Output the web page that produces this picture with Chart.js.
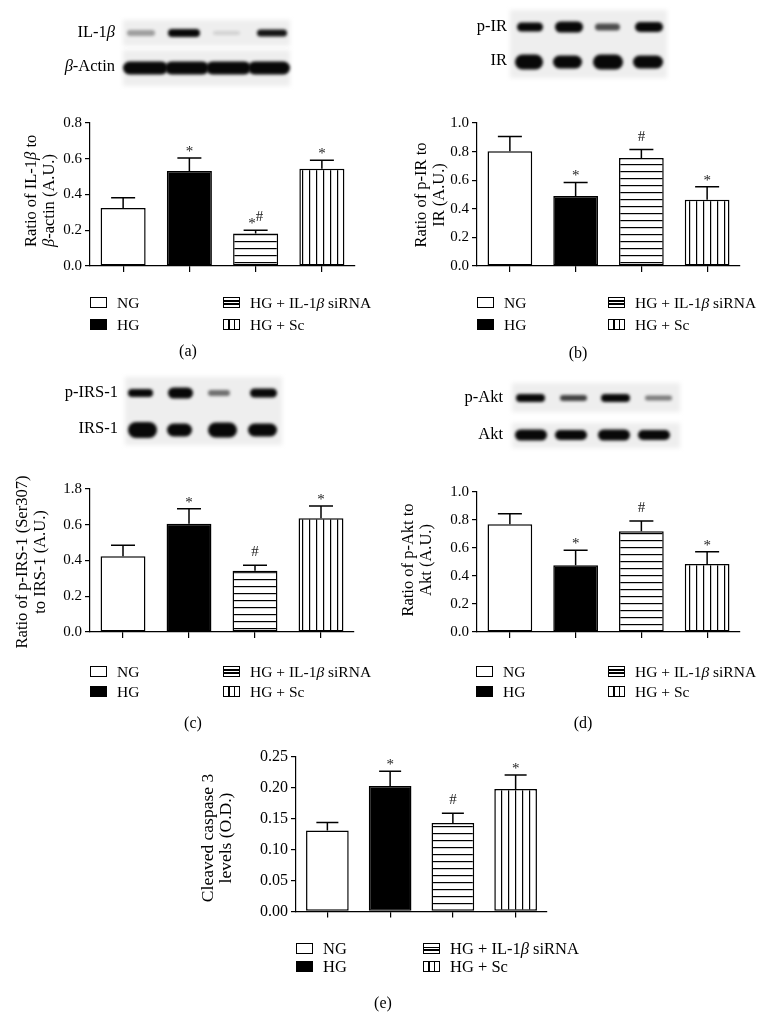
<!DOCTYPE html>
<html>
<head>
<meta charset="utf-8">
<script src="https://cdn.jsdelivr.net/npm/chart.js@4.4.1/dist/chart.umd.min.js"></script>
<style>
  body { margin: 0; background: #fff; width: 773px; height: 1036px; position: relative; overflow: hidden;
         font-family: "Liberation Serif", "DejaVu Serif", serif; color: #000; }
  canvas { position: absolute; }
  .lbl { position: absolute; font-size: 15.5px; white-space: nowrap; line-height: 16px; }
  .blot { font-size: 16.5px; }
  .ytitle { position: absolute; transform: rotate(-90deg); white-space: nowrap; font-size: 16.5px; line-height: 18px; }
  .sw { position: absolute; width: 15px; height: 9px; border: 1.5px solid #000; background: #fff; }
  .sw.black { background: #000; }
  .sw.hor { background: linear-gradient(to bottom, #fff 0 2.5px, #000 2.5px 3.8px, #fff 3.8px 5.4px, #000 5.4px 6.7px, #fff 6.7px); }
  .sw.ver { background: linear-gradient(to right, #fff 0 4.3px, #000 4.3px 5.6px, #fff 5.6px 9.6px, #000 9.6px 10.9px, #fff 10.9px); }
  .cap { position: absolute; font-size: 16px; transform: translate(-50%, -50%); }
</style>
</head>
<body>
<canvas id="blots" width="773" height="1036" style="left:0;top:0"></canvas>
<div id="texts"></div>
<script>
// groups (same in every panel)
const groups = ["NG", "HG", "HG + IL-1β siRNA", "HG + Sc"];

// (a) IL-1b / b-actin
const il1bMean = [0.324, 0.531, 0.182, 0.544];
const il1bUpper = [0.382, 0.604, 0.200, 0.591];
const il1bMarks = ["", "*", "*#", "*"];
const ticksA = [0, 0.2, 0.4, 0.6, 0.8];
const labelsA = ["0.0", "0.2", "0.4", "0.6", "0.8"];

// (b) p-IR / IR
const irMean = [0.802, 0.489, 0.755, 0.464];
const irUpper = [0.905, 0.584, 0.814, 0.555];
const irMarks = ["", "*", "#", "*"];
const ticksB = [0, 0.2, 0.4, 0.6, 0.8, 1.0];
const labelsB = ["0.0", "0.2", "0.4", "0.6", "0.8", "1.0"];

// (c) p-IRS-1 (Ser307) / IRS-1
const irsMean = [0.424, 0.605, 0.342, 0.636];
const irsUpper = [0.485, 0.690, 0.373, 0.705];
const irsMarks = ["", "*", "#", "*"];
const ticksC = [0, 0.2, 0.4, 0.6, 0.8];
const labelsC = ["0.0", "0.2", "0.4", "0.6", "1.8"];

// (d) p-Akt / Akt
const aktMean = [0.769, 0.476, 0.720, 0.485];
const aktUpper = [0.845, 0.584, 0.792, 0.573];
const aktMarks = ["", "*", "#", "*"];
const ticksD = [0, 0.2, 0.4, 0.6, 0.8, 1.0];
const labelsD = ["0.0", "0.2", "0.4", "0.6", "0.8", "1.0"];

// (e) cleaved caspase 3
const caspMean = [0.131, 0.203, 0.143, 0.198];
const caspUpper = [0.144, 0.227, 0.159, 0.221];
const caspMarks = ["", "*", "#", "*"];
const ticksE = [0, 0.05, 0.10, 0.15, 0.20, 0.25];
const labelsE = ["0.00", "0.05", "0.10", "0.15", "0.20", "0.25"];

Chart.defaults.font.family = '"Liberation Serif", serif';
Chart.defaults.color = "#000";
Chart.defaults.animation = false;

// striped fills for the siRNA and Sc bars
function stripes(vertical) {
  const c = document.createElement("canvas");
  c.width = 7; c.height = 7;
  const g = c.getContext("2d");
  g.fillStyle = "#fff"; g.fillRect(0, 0, 7, 7);
  g.fillStyle = "#000";
  if (vertical) g.fillRect(3, 0, 1.2, 7); else g.fillRect(0, 3, 7, 1.2);
  return g.createPattern(c, "repeat");
}
const fills = ["#fff", "#000", stripes(false), stripes(true)];

// error bars (upper only) + significance marks
function errPlugin(upper, marks, cap) {
  return {
    id: "err",
    afterDatasetsDraw(chart) {
      const ctx = chart.ctx;
      const y = chart.scales.y;
      const meta = chart.getDatasetMeta(0);
      ctx.save();
      ctx.strokeStyle = "#000";
      ctx.lineWidth = 1.5;
      meta.data.forEach((bar, i) => {
        const yt = y.getPixelForValue(upper[i]);
        ctx.beginPath();
        ctx.moveTo(bar.x, bar.y);
        ctx.lineTo(bar.x, yt);
        ctx.moveTo(bar.x - cap, yt);
        ctx.lineTo(bar.x + cap, yt);
        ctx.stroke();
        // marks: "*" sits high in the font, "#" needs lifting
        const m = marks[i];
        if (!m) return;
        ctx.font = '15px "Liberation Serif"';
        ctx.fillStyle = "#222";
        ctx.textBaseline = "alphabetic";
        const w = ctx.measureText(m).width;
        let x = bar.x - w / 2;
        for (const ch of m) {
          ctx.textAlign = "left";
          ctx.fillText(ch, x, ch === "#" ? yt - 9 : yt - 2);
          x += ctx.measureText(ch).width;
        }
      });
      ctx.restore();
    }
  };
}

// panel layout: axis position in page pixels
const panels = [
  { axisX: 90, axisEnd: 355, yTop: 123, yZero: 270, mean: il1bMean, upper: il1bUpper, marks: il1bMarks, ticks: ticksA, labels: labelsA, cap: 12, fs: 15 },
  { axisX: 477, axisEnd: 740, yTop: 123, yZero: 270, mean: irMean, upper: irUpper, marks: irMarks, ticks: ticksB, labels: labelsB, cap: 12, fs: 15 },
  { axisX: 90, axisEnd: 354, yTop: 489, yZero: 636, mean: irsMean, upper: irsUpper, marks: irsMarks, ticks: ticksC, labels: labelsC, cap: 12, fs: 15 },
  { axisX: 477, axisEnd: 740, yTop: 492, yZero: 636, mean: aktMean, upper: aktUpper, marks: aktMarks, ticks: ticksD, labels: labelsD, cap: 12, fs: 15 },
  { axisX: 296, axisEnd: 547, yTop: 757, yZero: 916, mean: caspMean, upper: caspUpper, marks: caspMarks, ticks: ticksE, labels: labelsE, cap: 11, fs: 16 }
];

panels.forEach((p) => {
  const padTop = 18, left = p.axisX - 50, top = p.yTop - padTop;
  const W = p.axisEnd - left + 2, H = p.yZero - top + 8;
  const cv = document.createElement("canvas");
  cv.width = W; cv.height = H;
  cv.style.left = left + "px"; cv.style.top = top + "px";
  cv.style.width = W + "px"; cv.style.height = H + "px";
  document.body.appendChild(cv);
  new Chart(cv, {
    type: "bar",
    data: {
      labels: groups,
      datasets: [{
        data: p.mean,
        backgroundColor: fills,
        borderColor: "#000",
        borderWidth: 1.5,
        borderSkipped: false,
        categoryPercentage: 1,
        barPercentage: 0.68
      }]
    },
    options: {
      responsive: false,
      devicePixelRatio: 1,
      layout: { padding: { top: padTop, right: 2, left: 0, bottom: 0 } },
      plugins: { legend: { display: false }, tooltip: { enabled: false } },
      scales: {
        x: {
          grid: { offset: false, drawOnChartArea: false, drawTicks: true, tickLength: 6, color: "#000", lineWidth: 1.2 },
          ticks: { display: false },
          border: { color: "#000", width: 1.2 },
          afterFit: (s) => { s.height = 8; }
        },
        y: {
          min: 0,
          max: p.ticks[p.ticks.length - 1],
          afterBuildTicks: (s) => { s.ticks = p.ticks.map((v) => ({ value: v })); },
          ticks: { callback: (v, i) => p.labels[i], font: { size: p.fs }, padding: 3, color: "#000" },
          grid: { drawOnChartArea: false, drawTicks: true, tickLength: 5, color: "#000", lineWidth: 1.2 },
          border: { color: "#000", width: 1.2 },
          afterFit: (s) => { s.width = p.axisX - left; }
        }
      }
    },
    plugins: [errPlugin(p.upper, p.marks, p.cap)]
  });
});

// ---- text: axis titles, legends, captions, blot labels
const texts = document.getElementById("texts");
function addHtml(html) { texts.insertAdjacentHTML("beforeend", html); }

function yTitle(lines, cx, cy, w, align, fs) {
  const h = lines.length * 18;
  addHtml(`<div class="ytitle" style="left:${cx - w / 2}px;top:${cy - h / 2}px;width:${w}px;height:${h}px;text-align:${align};font-size:${fs}px">${lines.join("<br>")}</div>`);
}
const b = "<i>β</i>";
yTitle([`Ratio of IL-1${b} to`, `${b}-actin (A.U.)`], 40, 182, 130, "left", 16.5);
yTitle(["Ratio of p-IR to", "IR (A.U.)"], 430, 195, 140, "center", 16.5);
yTitle(["Ratio of p-IRS-1 (Ser307)", "to IRS-1 (A.U.)"], 31, 562, 190, "center", 16.5);
yTitle(["Ratio of p-Akt to", "Akt (A.U.)"], 417, 560, 140, "center", 16.5);
yTitle(["Cleaved caspase 3", "levels (O.D.)"], 216, 838, 160, "center", 17.5);

const swClass = ["", "black", "hor", "ver"];
function legend(x1, x2, y1, gap, fs) {
  const pos = [[x1, y1], [x1, y1 + gap], [x2, y1], [x2, y1 + gap]];
  groups.forEach((g, i) => {
    const [x, y] = pos[i];
    const txt = g.replace("β", b);
    addHtml(`<div class="sw ${swClass[i]}" style="left:${x}px;top:${y}px"></div>`);
    addHtml(`<div class="lbl" style="left:${x + 27}px;top:${y - 2}px;font-size:${fs}px">${txt}</div>`);
  });
}
legend(90, 223, 297, 22, 15.5);
legend(477, 608, 297, 22, 15.5);
legend(90, 223, 666, 20, 15.5);
legend(476, 608, 666, 20, 15.5);
legend(296, 423, 943, 18, 16.5);

function caption(t, x, y) { addHtml(`<div class="cap" style="left:${x}px;top:${y}px">${t}</div>`); }
caption("(a)", 188, 351);
caption("(b)", 578, 353);
caption("(c)", 193, 723);
caption("(d)", 583, 723);
caption("(e)", 383, 1003);

function blotLabel(t, right, y) {
  addHtml(`<div class="lbl blot" style="right:${773 - right}px;top:${y - 9}px">${t}</div>`);
}
blotLabel(`IL-1${b}`, 115, 33);
blotLabel(`${b}-Actin`, 115, 67);
blotLabel("p-IR", 507, 27);
blotLabel("IR", 507, 61);
blotLabel("p-IRS-1", 118, 393);
blotLabel("IRS-1", 118, 429);
blotLabel("p-Akt", 503, 398);
blotLabel("Akt", 503, 435);

// ---- western blot pictures (decoration)
const bx = document.getElementById("blots").getContext("2d");
function bg(x0, y0, x1, y1) {
  bx.save(); bx.filter = "blur(2px)"; bx.fillStyle = "#eeeeee";
  bx.fillRect(x0, y0, x1 - x0, y1 - y0); bx.restore();
}
function band(x0, x1, yc, h, a) {
  bx.save(); bx.filter = "blur(1.6px)"; bx.fillStyle = `rgba(8,8,8,${a})`;
  bx.beginPath(); bx.roundRect(x0, yc - h / 2, x1 - x0, h, h / 2); bx.fill(); bx.restore();
}
// (a)
bg(123, 20, 290, 46); bg(123, 50, 290, 86);
[[127, 155, 33, 6, 0.35], [168, 200, 33, 8, 1], [213, 240, 33, 4, 0.12], [257, 287, 33, 7, 0.95]].forEach((d) => band(...d));
[[123, 168, 68, 13, 1], [165, 209, 68, 13, 1], [206, 251, 68, 13, 1], [248, 290, 68, 13, 1]].forEach((d) => band(...d));
// (b)
bg(510, 10, 667, 78);
[[517, 543, 27, 9, 1], [555, 583, 27, 11, 1], [595, 620, 27, 7, 0.7], [635, 663, 27, 10, 1]].forEach((d) => band(...d));
[[515, 543, 62, 15, 1], [553, 582, 62, 13, 1], [593, 623, 62, 15, 1], [633, 663, 62, 13, 1]].forEach((d) => band(...d));
// (c)
bg(125, 377, 282, 445);
[[128, 153, 393, 8, 1], [168, 193, 393, 11, 1], [208, 230, 393, 6, 0.55], [250, 277, 393, 9, 1]].forEach((d) => band(...d));
[[128, 157, 430, 16, 1], [167, 192, 430, 13, 1], [208, 237, 430, 15, 1], [248, 277, 430, 13, 1]].forEach((d) => band(...d));
// (d)
bg(512, 383, 680, 412); bg(512, 423, 680, 448);
[[516, 545, 398, 8, 1], [560, 587, 398, 6, 0.75], [601, 630, 398, 8, 1], [645, 672, 398, 5, 0.5]].forEach((d) => band(...d));
[[515, 547, 435, 11, 1], [555, 587, 435, 10, 1], [598, 630, 435, 11, 1], [638, 670, 435, 10, 1]].forEach((d) => band(...d));
</script>
</body>
</html>
